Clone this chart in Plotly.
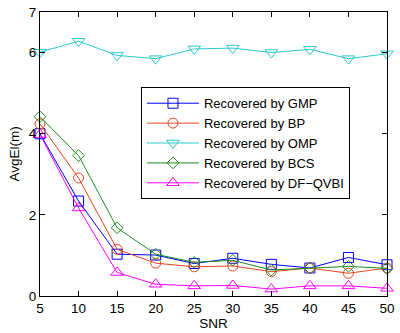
import plotly.graph_objects as go

snr = [5, 10, 15, 20, 25, 30, 35, 40, 45, 50]
gmp = [4.00, 2.34, 1.03, 1.01, 0.80, 0.93, 0.78, 0.69, 0.95, 0.77]
bp = [4.24, 2.91, 1.15, 0.81, 0.72, 0.74, 0.60, 0.69, 0.56, 0.69]
omp = [6.01, 6.28, 5.93, 5.85, 6.09, 6.11, 6.00, 6.08, 5.85, 5.97]
bcs = [4.42, 3.46, 1.68, 1.03, 0.83, 0.88, 0.64, 0.69, 0.73, 0.68]
dfq = [3.98, 2.17, 0.58, 0.29, 0.25, 0.26, 0.17, 0.25, 0.25, 0.19]

names = ["Recovered by GMP", "Recovered by BP", "Recovered by OMP",
         "Recovered by BCS", "Recovered by DF\u2212QVBI"]
series = [gmp, bp, omp, bcs, dfq]
colors = ["#0000ff", "#e5461f", "#2ccaca", "#1f8c1f", "#ff00ff"]
symbols = ["square-open", "circle-open", "triangle-down-open", "diamond-open", "triangle-up-open"]
sizes = [10, 10, 11, 9, 11]

fig = go.Figure()
for name, ys, c, s, sz in zip(names, series, colors, symbols, sizes):
    fig.add_trace(go.Scatter(
        x=snr, y=ys, name=name, mode="lines+markers",
        line=dict(color=c, width=1),
        marker=dict(symbol=s, size=sz, color=c, line=dict(color=c, width=1)),
        cliponaxis=False,
    ))

axis_common = dict(
    showline=True, linecolor="black", linewidth=1, mirror="ticks",
    ticks="inside", ticklen=5, tickcolor="black", showgrid=False, zeroline=False,
    ticklabeloverflow="allow",
    tickfont=dict(family="Liberation Sans, Arial", size=13.5, color="black"),
)

fig.update_layout(
    width=400, height=333,
    margin=dict(l=40, r=5, t=12, b=36),
    paper_bgcolor="white", plot_bgcolor="white",
    font=dict(family="Liberation Sans, Arial", size=12, color="black"),
    xaxis=dict(range=[5, 50], tickvals=[5, 10, 15, 20, 25, 30, 35, 40, 45, 50],
               title=dict(text="SNR", standoff=2, font=dict(size=13.5)), **axis_common),
    yaxis=dict(range=[0, 7], tickvals=[0, 2, 4, 6, 7],
               title=dict(text="AvgEl(m)", standoff=6, font=dict(size=13.5)), **axis_common),
    legend=dict(x=0.291, y=0.735, xanchor="left", yanchor="top",
                bgcolor="white", bordercolor="black", borderwidth=1,
                font=dict(size=13), itemwidth=52, tracegroupgap=0,
                entrywidth=225, entrywidthmode="pixels"),
    showlegend=True,
)

fig.write_html("out.html")
